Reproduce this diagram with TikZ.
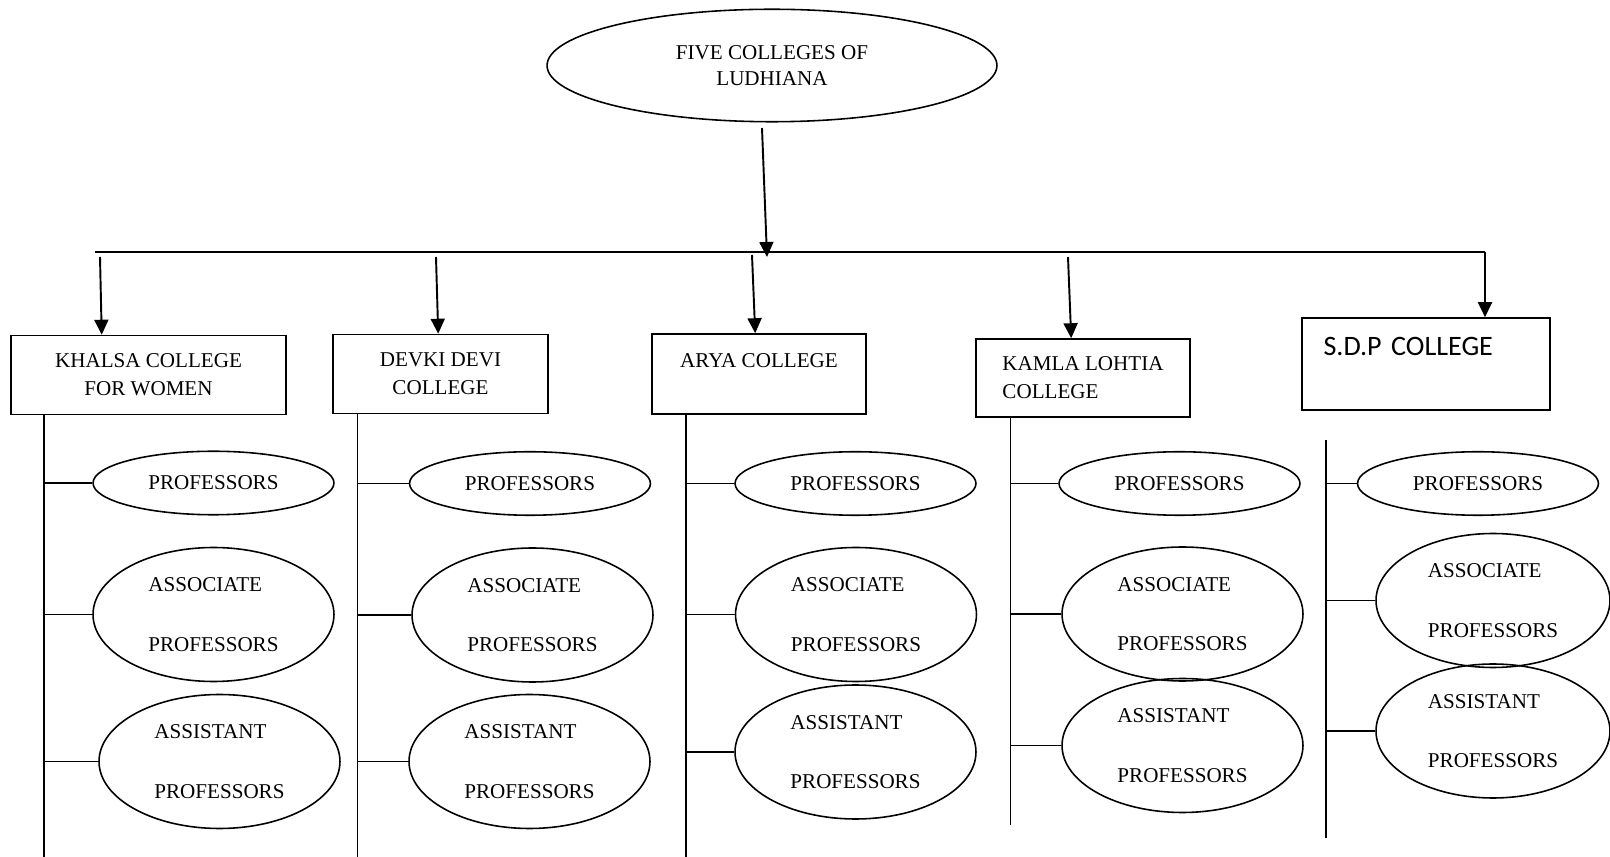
\documentclass[tikz,border=0pt]{standalone}
\usepackage{fontspec}
\setmainfont{Liberation Serif}
\newfontfamily\calibri{Carlito}
\usepackage{tikz}
\usetikzlibrary{arrows.meta,shapes.geometric,positioning}
\tikzstyle{college}=[rectangle, draw=black, inner sep=0pt, minimum height=1.58cm, align=center, font=\fontsize{12}{15.8}\selectfont]
\tikzstyle{staff}=[ellipse, draw=black, inner sep=0pt, minimum width=4.82cm, minimum height=1.27cm, font=\fontsize{12}{14}\selectfont]
\tikzstyle{staffbig}=[staff, minimum height=2.68cm, align=left, font=\fontsize{12}{34}\selectfont]
\tikzstyle{down}=[->, line width=1.1pt]

\begin{document}
\begin{tikzpicture}[x=0.02cm, y=-0.02cm, line width=0.9pt, >={Triangle[length=0.3cm,width=0.28cm]}]
	\useasboundingbox (0,0) rectangle (1610,857);

	\node[ellipse, draw=black, inner sep=0pt, minimum width=9cm, minimum height=2.25cm, align=center, font=\fontsize{12}{15}\selectfont] (five) at (772,65.5) {FIVE COLLEGES OF\\LUDHIANA};

	\node[college, minimum width=5.5cm] (khalsa) at (148.5,375) {KHALSA COLLEGE\\FOR WOMEN};
	\node[college, minimum width=4.3cm] (devki) at (440.5,374) {DEVKI DEVI\\COLLEGE};
	\node[college, minimum width=4.28cm, minimum height=1.6cm] (arya) at (759,374) {ARYA COLLEGE\\\mbox{}};
	\node[college, minimum width=4.28cm, minimum height=1.56cm, align=left] (kamla) at (1083,378) {KAMLA LOHTIA\\COLLEGE};
	\node[college, minimum width=4.96cm, minimum height=1.84cm, text width=4.1cm, align=left, font=\calibri\fontsize{16}{19.5}\selectfont] (sdp) at (1426,364) {S.D.P COLLEGE\\\mbox{}};

	% bus line
	\coordinate (foot) at (762,128);
	\coordinate (hub) at (767,257);
	\coordinate (busl) at (95,252);
	\coordinate (busr) at (1485,252);
	\draw[down] (foot) -- (hub);
	\draw (busl) -- (busr);
	\draw[down] (busr) -- (sdp.north -| busr);

	\coordinate (k0) at (100,257);
	\coordinate (d0) at (436,257);
	\coordinate (a0) at (752,255);
	\coordinate (l0) at (1068,257);
	\draw[down] (k0) -- ([xshift=1.83cm]khalsa.north west);
	\draw[down] (d0) -- ([xshift=2.12cm]devki.north west);
	\draw[down] (a0) -- ([xshift=2.08cm]arya.north west);
	\draw[down] (l0) -- ([xshift=1.92cm]kamla.north west);

	% khalsa
	\coordinate (kb) at (44,857);
	\node[staff] (kp) at (213.5,483) {PROFESSORS};
	\node[staffbig] (ka) at (213.5,614.5) {ASSOCIATE\\PROFESSORS};
	\node[staffbig] (ks) at (219.5,761.5) {ASSISTANT\\PROFESSORS};
	\draw (khalsa.south -| kb) -- (kb);
	\draw (kb |- kp.west) -- (kp.west);
	\draw (kb |- ka.west) -- (ka.west);
	\draw (kb |- ks.west) -- (ks.west);

	% devki
	\coordinate (db) at (357.5,857);
	\node[staff] (dp) at (530,483.5) {PROFESSORS};
	\node[staffbig] (da) at (532.5,615) {ASSOCIATE\\PROFESSORS};
	\node[staffbig] (ds) at (529.5,761.5) {ASSISTANT\\PROFESSORS};
	\draw (devki.south -| db) -- (db);
	\draw (db |- dp.west) -- (dp.west);
	\draw (db |- da.west) -- (da.west);
	\draw (db |- ds.west) -- (ds.west);

	% arya
	\coordinate (ab) at (686,857);
	\node[staff] (ap) at (855.5,483.5) {PROFESSORS};
	\node[staffbig] (aa) at (856,614.5) {ASSOCIATE\\PROFESSORS};
	\node[staffbig] (as) at (855.5,752) {ASSISTANT\\PROFESSORS};
	\draw (arya.south -| ab) -- (ab);
	\draw (ab |- ap.west) -- (ap.west);
	\draw (ab |- aa.west) -- (aa.west);
	\draw (ab |- as.west) -- (as.west);

	% kamla
	\coordinate (lb) at (1010.5,825);
	\node[staff] (lp) at (1179.5,483.5) {PROFESSORS};
	\node[staffbig] (la) at (1182.5,614) {ASSOCIATE\\PROFESSORS};
	\node[staffbig] (ls) at (1182.5,745.5) {ASSISTANT\\PROFESSORS};
	\draw (kamla.south -| lb) -- (lb);
	\draw (lb |- lp.west) -- (lp.west);
	\draw (lb |- la.west) -- (la.west);
	\draw (lb |- ls.west) -- (ls.west);

	% sdp
	\coordinate (st) at (1326,440);
	\coordinate (sb) at (1326,838);
	\node[staff] (sp) at (1478,483.5) {PROFESSORS};
	\node[staffbig, minimum width=4.68cm] (sa) at (1493,600.5) {ASSOCIATE\\PROFESSORS};
	\node[staffbig, minimum width=4.68cm] (ss) at (1493,731) {ASSISTANT\\PROFESSORS};
	\draw (st) -- (sb);
	\draw (sb |- sp.west) -- (sp.west);
	\draw (sb |- sa.west) -- (sa.west);
	\draw (sb |- ss.west) -- (ss.west);
\end{tikzpicture}
\end{document}
